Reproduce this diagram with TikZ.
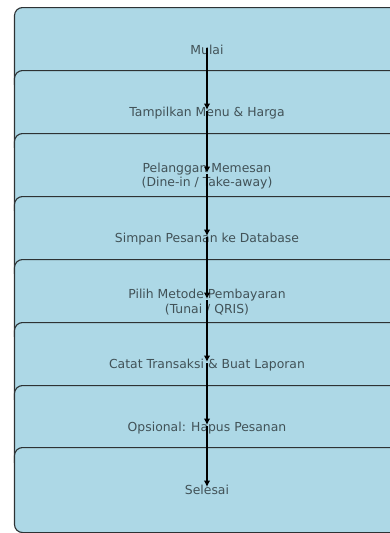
\documentclass[tikz,border=0pt]{standalone}
\usepackage{fontspec}
\setmainfont{DejaVu Sans}
\usetikzlibrary{arrows.meta}
\definecolor{stagefill}{RGB}{173,216,230}
\definecolor{stageline}{RGB}{45,50,52}
\tikzset{
  stagebox/.style={draw=stageline, fill=stagefill, line width=1.1pt,
    rounded corners=8pt, minimum width=385pt, minimum height=85pt,
    anchor=north, align=center, inner sep=0pt,
    font=\fontsize{12.4}{14.9}\selectfont, text=black, text opacity=0.62},
  flowarrow/.style={draw=black, line width=1.3pt,
    -{Latex[length=6.5pt,width=6.5pt]}, shorten >=3pt}
}
\begin{document}
\begin{tikzpicture}[x=1pt,y=-1pt]
\useasboundingbox (0,0) rectangle (390,533);
\clip (0,0) rectangle (390,533);
% stacked stage panels, each partly covering the one above
\node[stagebox] (b1) at (207,7)   {Mulai};
\node[stagebox] (b2) at (207,70)  {Tampilkan Menu \& Harga};
\node[stagebox] (b3) at (207,133) {Pelanggan Memesan\\(Dine-in / Take-away)};
\node[stagebox] (b4) at (207,196) {Simpan Pesanan ke Database};
\node[stagebox] (b5) at (207,259) {Pilih Metode Pembayaran\\(Tunai / QRIS)};
\node[stagebox] (b6) at (207,322) {Catat Transaksi \& Buat Laporan};
\node[stagebox] (b7) at (207,385) {Opsional: Hapus Pesanan};
\node[stagebox] (b8) at (207,447) {Selesai};
% flow arrows drawn over all panels
\foreach \a/\b in {b1/b2,b2/b3,b3/b4,b4/b5,b5/b6,b6/b7,b7/b8}
  \draw[flowarrow] ([yshift=2pt]\a.center) -- (\b.center);
\end{tikzpicture}
\end{document}
